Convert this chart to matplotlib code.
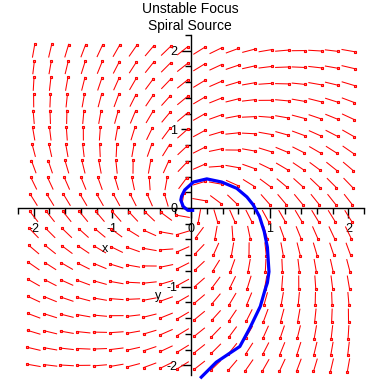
import numpy as np
import matplotlib
matplotlib.use("Agg")
import matplotlib.pyplot as plt
from matplotlib.collections import LineCollection
from matplotlib.ticker import FixedLocator

plt.rcParams['font.family'] = ['Liberation Sans', 'DejaVu Sans']

# linear system  x' = a*x + b*y,  y' = c*x + d*y
coef_a, coef_b, coef_c, coef_d = 0.7, 1.0, -1.0, 0.7
grid_x = np.linspace(-2, 2, 20)
grid_y = np.linspace(-2, 2, 20)

# solution curve
curve_x = [0.02, -0.04, -0.1, -0.13, -0.12, -0.08, 0.03, 0.2, 0.39, 0.58, 0.71, 0.79,
           0.87, 0.93, 0.97, 0.99, 0.97, 0.94, 0.88, 0.75, 0.62, 0.5, 0.32, 0.13]
curve_y = [-0.03, -0.03, 0.02, 0.1, 0.15, 0.23, 0.33, 0.37, 0.33, 0.25, 0.14, 0.04,
           -0.11, -0.3, -0.5, -0.81, -0.95, -1.04, -1.25, -1.52, -1.76, -1.84, -1.96, -2.15]

major_ticks = [-2, -1, 0, 1, 2]
major_labels = ['-2', '-1', '0', '1', '2']

fig = plt.figure(figsize=(3.82, 3.82), dpi=100)
ax = fig.add_axes([17.9 / 382, (382 - 374.8) / 382, 346.3 / 382, 339.9 / 382])
ax.set_xlim(-2.2, 2.2)
ax.set_ylim(-2.12, 2.2)

# direction field, normalised arrows centred on grid points
X, Y = np.meshgrid(grid_x, grid_y)
U = coef_a * X + coef_b * Y
V = coef_c * X + coef_d * Y
n = np.hypot(U, V)
n[n == 0] = 1
L = 0.18
U = U / n * L / 2
V = V / n * L / 2
segs = np.stack([np.stack([X - U, Y - V], -1), np.stack([X + U, Y + V], -1)], -2).reshape(-1, 2, 2)
ax.add_collection(LineCollection(segs, colors='red', linewidths=0.75))
ax.plot((X + U * 0.9).ravel(), (Y + V * 0.9).ravel(), 's', ms=2.1, mfc='#ff8080', mec='red', mew=0.8, ls='none')

ax.plot(curve_x, curve_y, color='blue', lw=2.3, clip_on=False, zorder=5)

# axes through the origin, Maple style
for s in ['top', 'right']:
    ax.spines[s].set_visible(False)
ax.spines['left'].set_position('zero')
ax.spines['bottom'].set_position('zero')
for s in ['left', 'bottom']:
    ax.spines[s].set_linewidth(1.0)

ax.set_xticks(major_ticks)
ax.set_xticklabels(major_labels)
ax.set_yticks(major_ticks)
ax.set_yticklabels(major_labels)
minor = [t / 10 for t in range(-22, 23, 2) if t % 10 != 0]
ax.xaxis.set_minor_locator(FixedLocator(minor))
ax.yaxis.set_minor_locator(FixedLocator([m for m in minor if m > -2.12]))
ax.tick_params(which='major', direction='out', length=7, width=1, labelsize=9, pad=3)
ax.tick_params(which='minor', direction='out', length=4.5, width=1)
ax.tick_params(axis='x', which='major', pad=4)

ax.text(-1.09, -0.52, 'x', fontsize=9, ha='center', va='center')
ax.text(-0.42, -1.12, 'y', fontsize=9, ha='center', va='center')

fig.text(190 / 382, 1 - 9 / 382, 'Unstable Focus', fontsize=10, ha='center', va='center')
fig.text(190 / 382, 1 - 26 / 382, 'Spiral Source', fontsize=10, ha='center', va='center')

fig.savefig('out.png', dpi=100)
